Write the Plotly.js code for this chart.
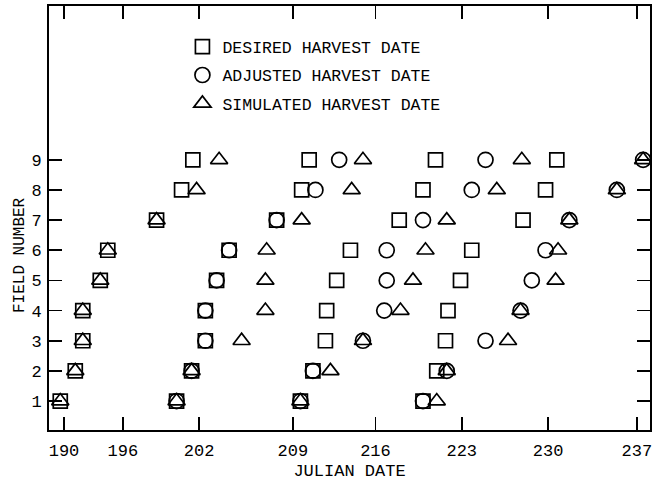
<!DOCTYPE html>
<html>
<head>
<meta charset="utf-8">
<script src="https://cdn.plot.ly/plotly-3.0.1.min.js"></script>
<style>html,body{margin:0;padding:0;background:#fff;}#chart{width:652px;height:486px;}</style>
</head>
<body>
<div id="chart"></div>
<script>
// Desired harvest dates (squares)
const desiredDate  = [201.5,210.8,220.9,230.6, 200.6,210.2,219.9,229.7, 198.6,208.2,218.0,227.9, 194.7,204.4,214.1,223.8, 194.1,203.4,213.0,222.9, 192.7,202.5,212.2,221.9, 192.7,202.5,212.1,221.7, 192.1,201.4,211.1,221.0, 190.9,200.2,210.1,219.9];
const desiredField = [9,9,9,9, 8,8,8,8, 7,7,7,7, 6,6,6,6, 5,5,5,5, 4,4,4,4, 3,3,3,3, 2,2,2,2, 1,1,1,1];
// Adjusted harvest dates (circles)
const adjustedDate  = [213.2,224.9,237.5, 211.3,223.8,235.4, 208.2,219.9,231.6, 204.4,217.0,229.7, 203.4,217.0,228.6, 202.5,216.8,227.7, 202.5,215.1,224.9, 201.4,211.1,221.8, 200.2,210.1,219.9];
const adjustedField = [9,9,9, 8,8,8, 7,7,7, 6,6,6, 5,5,5, 4,4,4, 3,3,3, 2,2,2, 1,1,1];
// Simulated harvest dates (triangles)
const simulatedDate  = [203.6,215.1,227.8,237.5, 201.8,214.2,225.8,235.4, 198.6,210.2,221.8,231.6, 194.7,207.4,220.1,230.7, 194.1,207.3,219.1,230.5, 192.7,207.3,218.1,227.7, 192.7,205.4,215.1,226.7, 192.1,201.4,212.5,221.8, 190.9,200.2,210.1,221.0];
const simulatedField = [9,9,9,9, 8,8,8,8, 7,7,7,7, 6,6,6,6, 5,5,5,5, 4,4,4,4, 3,3,3,3, 2,2,2,2, 1,1,1,1];

const seriesNames = ["DESIRED HARVEST DATE","ADJUSTED HARVEST DATE","SIMULATED HARVEST DATE"];
const xTickLabels = ["190","196","202","209","216","223","230","237"];
const yTickLabels = ["1","2","3","4","5","6","7","8","9"];

const xTickPos = [191.2,195.9,202,209.5,216.1,223,229.9,237];
const yTickPos = [1,2,3,4,5,6,7,8,9];

const mono = "Liberation Mono, DejaVu Sans Mono, monospace";
const lw = 1.7;

const traces = [
  {x: desiredDate, y: desiredField, name: seriesNames[0], type:'scatter', mode:'markers', legendgroup:'a',
   marker:{symbol:'square-open', size:14, color:'#000', line:{width:lw, color:'#000'}}},
  {x: adjustedDate, y: adjustedField, name: seriesNames[1], type:'scatter', mode:'markers', legendgroup:'b',
   marker:{symbol:'circle-open', size:15, color:'#000', line:{width:lw, color:'#000'}}},
  {x: simulatedDate, y: simulatedField, name: seriesNames[2], type:'scatter', mode:'markers', legendgroup:'c',
   marker:{symbol:'triangle-up-open', size:15, color:'#000', line:{width:lw, color:'#000'}}}
];

const axisCommon = {
  showgrid:false, zeroline:false, showline:true, linecolor:'#000', linewidth:2,
  mirror:'ticks', ticks:'inside', tickcolor:'#000', tickwidth:1.6, ticklen:13,
  tickfont:{family:mono, size:17, color:'#000'}, ticklabeloverflow:'allow'
};

const layout = {
  width:652, height:486,
  margin:{l:49, r:2, t:6, b:56},
  paper_bgcolor:'#fff', plot_bgcolor:'#fff',
  showlegend:true,
  legend:{x:0.222, y:0.945, xanchor:'left', yanchor:'top', bgcolor:'rgba(0,0,0,0)', borderwidth:0,
          traceorder:'grouped', tracegroupgap:4, itemwidth:30,
          font:{family:mono, size:16.5, color:'#000'}},
  xaxis:Object.assign({}, axisCommon, {
    range:[190, 238.05], tickmode:'array', tickvals:xTickPos, ticktext:xTickLabels,
    ticklabelstandoff:4,
    title:{text:'JULIAN DATE', font:{family:mono, size:17, color:'#000'}, standoff:4}
  }),
  yaxis:Object.assign({}, axisCommon, {
    range:[0.04, 14.1], tickmode:'array', tickvals:yTickPos, ticktext:yTickLabels,
    ticklabelstandoff:2
  }),
  annotations:[{
    text:'FIELD NUMBER', textangle:-90, xref:'paper', yref:'paper',
    x:(20-49)/601, y:(430-255)/424, xanchor:'center', yanchor:'middle', showarrow:false,
    font:{family:mono, size:16, color:'#000'}
  }]
};

Plotly.newPlot('chart', traces, layout, {displayModeBar:false, staticPlot:true});
</script>
</body>
</html>
